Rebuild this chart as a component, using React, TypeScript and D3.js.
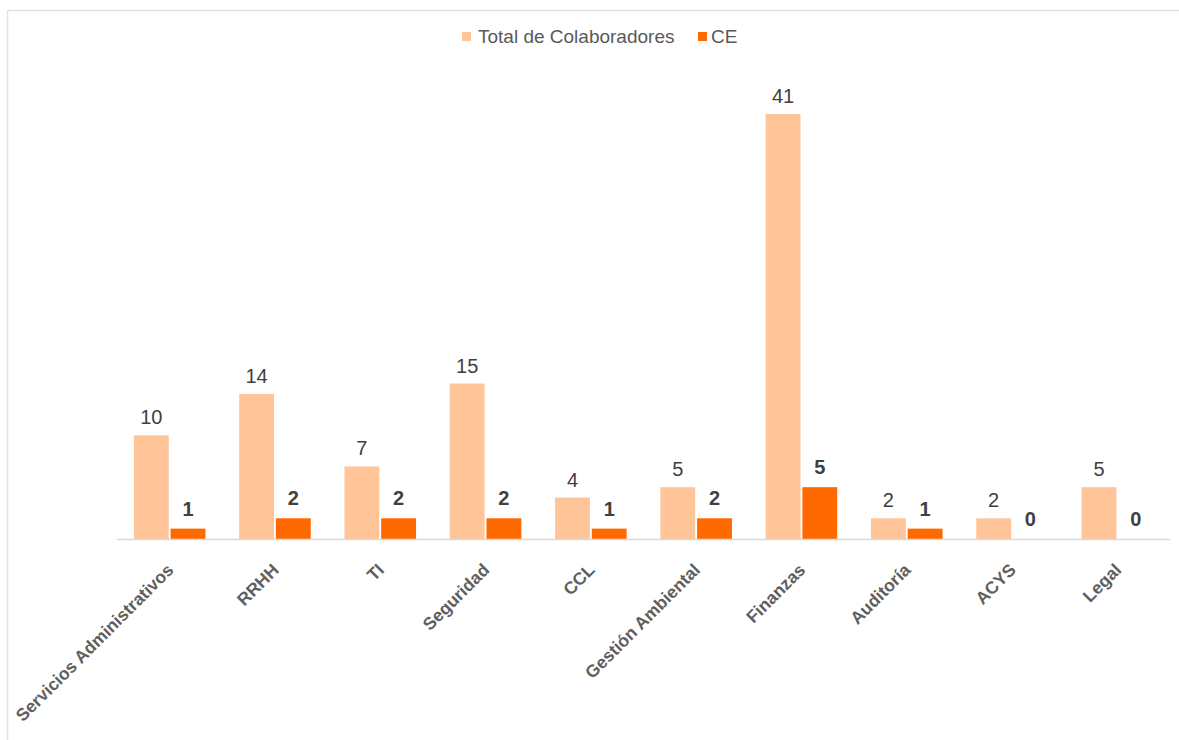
import React from "react";
import * as d3 from "d3";

const categories = [
  "Servicios Administrativos",
  "RRHH",
  "TI",
  "Seguridad",
  "CCL",
  "Gestión Ambiental",
  "Finanzas",
  "Auditoría",
  "ACYS",
  "Legal",
];
const totalColaboradores = [10, 14, 7, 15, 4, 5, 41, 2, 2, 5];
const ceValues = [1, 2, 2, 2, 1, 2, 5, 1, 0, 0];
const seriesNames = ["Total de Colaboradores", "CE"];
const seriesColors = ["#FFC599", "#FF6A00"];

const W = 1179;
const H = 740;
const margin = { left: 117, right: 9, top: 114, bottom: 201 };

export default function App() {
  const x0 = d3
    .scaleBand<string>()
    .domain(categories)
    .range([margin.left, W - margin.right])
    .paddingInner(0.32)
    .paddingOuter(0.16);
  const x1 = d3
    .scaleBand<number>()
    .domain([0, 1])
    .range([0, x0.bandwidth()])
    .paddingInner(0.05);
  const y = d3
    .scaleLinear()
    .domain([0, 41])
    .range([H - margin.bottom, margin.top]);
  const base = y(0);
  const series = [totalColaboradores, ceValues];
  const font = "'Liberation Sans', Arial, Helvetica, sans-serif";

  return (
    <svg
      width={W}
      height={H}
      style={{ position: "absolute", left: 0, top: 0, fontFamily: font }}
    >
      <rect x={0} y={0} width={W} height={H} fill="#fff" />
      <line x1={7.5} x2={W} y1={10.5} y2={10.5} stroke="#e3e3e3" strokeWidth={1.5} />
      <line x1={7.5} x2={7.5} y1={10.5} y2={H} stroke="#e3e3e3" strokeWidth={1.5} />

      {/* legend */}
      <g>
        <rect x={462} y={32} width={9} height={9} fill={seriesColors[0]} />
        <text x={478} y={43} fontSize={19} fill="#595959">
          {seriesNames[0]}
        </text>
        <rect x={698} y={32} width={9} height={9} fill={seriesColors[1]} />
        <text x={711} y={43} fontSize={19} fill="#595959">
          {seriesNames[1]}
        </text>
      </g>

      {/* bars */}
      {categories.map((c, i) => (
        <g key={c} transform={`translate(${x0(c)},0)`}>
          {series.map((s, k) => {
            const v = s[i];
            const bx = x1(k)!;
            const bw = x1.bandwidth();
            return (
              <g key={k}>
                {v > 0 && (
                  <rect x={bx} y={y(v)} width={bw} height={base - y(v)} fill={seriesColors[k]} />
                )}
                <text
                  x={bx + bw / 2}
                  y={y(v) - (k === 1 ? 13 : 11)}
                  textAnchor="middle"
                  fontSize={20}
                  fontWeight={k === 1 ? "bold" : "normal"}
                  fill="#404040"
                >
                  {v}
                </text>
              </g>
            );
          })}
        </g>
      ))}

      {/* axis */}
      <line x1={margin.left} x2={W - margin.right} y1={base + 0.5} y2={base + 0.5} stroke="#d9d9d9" strokeWidth={1.5} />

      {categories.map((c) => {
        const cx = x0(c)! + x0.bandwidth() / 2 + 5;
        const cy = base + 32;
        return (
          <text
            key={c}
            transform={`translate(${cx},${cy}) rotate(-45)`}
            textAnchor="end"
            fontSize={17.5}
            fontWeight="bold"
            fill="#5f5f5f"
          >
            {c}
          </text>
        );
      })}
    </svg>
  );
}
